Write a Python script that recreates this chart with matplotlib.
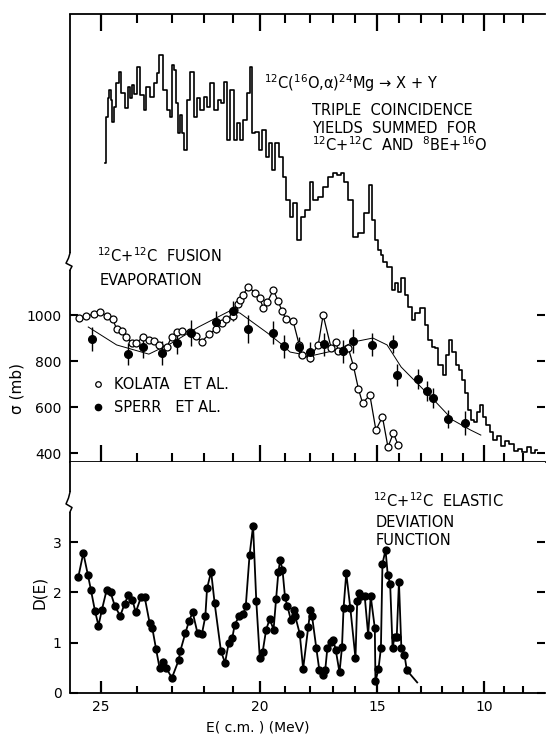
import numpy as np
import matplotlib.pyplot as plt
from matplotlib.lines import Line2D

# energy axis of the figure is not linear in E(c.m.):
# length of each 1 MeV step, going from 26 MeV down to 6 MeV
axis_mev = np.arange(26, 5, -1)
mev_step = [38, 36, 34.5, 32, 29, 27, 25.5, 24.5, 23.5, 22.5,
            21.5, 22, 22, 21.5, 21, 20.5, 20, 19.5, 19, 19]

# 12C(16O,a)24Mg -> X+Y triple coincidence yield (arbitrary units, drawn on the sigma scale)
yield_e = [24.89, 24.84, 24.78, 24.76, 24.70, 24.68, 24.62, 24.54, 24.49, 24.38,
           24.30, 24.22, 24.16, 24.11, 24.05, 23.97, 23.86, 23.77, 23.69, 23.57,
           23.46, 23.40, 23.31, 23.20, 23.09, 23.03, 22.97, 22.88, 22.84, 22.78,
           22.72, 22.66, 22.59, 22.44, 22.38, 22.25, 22.16, 22.06, 21.93, 21.82,
           21.71, 21.57, 21.46, 21.36, 21.21, 21.18, 21.00, 20.88, 20.81, 20.65,
           20.54, 20.42, 20.31, 20.23, 20.08, 19.96, 19.81, 19.69, 19.58, 19.46,
           19.31, 19.15, 19.00, 18.88, 18.75, 18.58, 18.46, 18.25, 18.08, 17.92,
           17.75, 17.54, 17.33, 17.13, 16.91, 16.73, 16.59, 16.45, 16.23, 16.00,
           15.76, 15.48, 15.29, 15.14, 15.00, 14.88, 14.79, 14.63, 14.42, 14.25,
           14.13, 14.00, 13.80, 13.65, 13.50, 13.35, 13.15, 12.91, 12.74, 12.57,
           12.43, 12.30, 12.09, 11.90, 11.75, 11.60, 11.45, 11.30, 11.15, 11.00,
           10.85, 10.70, 10.55, 10.40, 10.25, 10.10, 9.95, 9.81, 9.62, 9.43,
           9.24, 9.05, 8.83, 8.61, 8.39, 8.17, 7.94, 7.72, 7.50, 7.28]
yield_val = [1661, 1861, 1944, 1978, 1935, 1839, 1904, 2009, 2057, 1965,
             1900, 1991, 1944, 2000, 1961, 2078, 1957, 1891, 1991, 1948,
             2009, 2052, 2130, 1978, 1891, 1861, 2087, 2065, 1922, 1791,
             1870, 1791, 1717, 1935, 2057, 1861, 1944, 1891, 1948, 1904,
             2009, 1891, 1935, 1922, 2013, 1761, 1978, 1761, 1835, 1761,
             1848, 1965, 2078, 1791, 1796, 1717, 1804, 1687, 1748, 1630,
             1748, 1687, 1600, 1500, 1426, 1487, 1326, 1426, 1457, 1578,
             1500, 1513, 1557, 1600, 1617, 1609, 1617, 1578, 1500, 1339,
             1357, 1443, 1565, 1413, 1326, 1283, 1261, 1230, 1209, 1109,
             1139, 1100, 1161, 1087, 1035, 978, 1009, 1030, 957, 891,
             861, 857, 783, 739, 826, 891, 839, 783, 761, 717,
             661, 587, 543, 535, 578, 609, 557, 522, 491, 457,
             474, 430, 452, 439, 409, 417, 404, 426, 400, 413]

# 12C+12C fusion evaporation cross section (mb)
kolata_e = [25.58, 25.39, 25.18, 25.03, 24.84, 24.68, 24.57, 24.43, 24.30, 24.14,
            24.03, 23.83, 23.66, 23.51, 23.37, 23.14, 23.00, 22.84, 22.66, 22.41,
            22.25, 22.06, 21.82, 21.57, 21.36, 21.21, 21.00, 20.96, 20.81, 20.73,
            20.62, 20.42, 20.15, 20.00, 19.85, 19.69, 19.46, 19.27, 19.12, 18.96,
            18.67, 18.42, 18.29, 18.00, 17.63, 17.42, 17.08, 16.86, 16.77, 16.55,
            16.32, 16.09, 15.86, 15.67, 15.33, 15.05, 14.75, 14.50, 14.25, 14.04]
kolata_sig = [987, 996, 1004, 1013, 996, 983, 939, 930, 904, 878,
              878, 904, 891, 887, 870, 861, 904, 926, 930, 926,
              909, 883, 917, 939, 965, 983, 996, 1022, 1048, 1065,
              1087, 1122, 1096, 1074, 1030, 1057, 1109, 1061, 1017, 983,
              974, 870, 826, 813, 870, 1000, 857, 883, 843, 843,
              857, 778, 678, 617, 652, 500, 557, 426, 487, 435]

sperr_e = [25.24, 24.24, 23.83, 23.29, 22.84, 22.38, 21.57, 21.00, 20.42, 19.46,
           19.04, 18.42, 18.00, 17.38, 16.55, 16.09, 15.24, 14.29, 14.10, 13.15,
           12.74, 12.43, 11.75, 10.90]
sperr_sig = [896, 830, 861, 835, 878, 922, 970, 1017, 939, 922,
             865, 861, 839, 874, 843, 887, 870, 874, 739, 722,
             670, 639, 548, 530]
sperr_err = [53, 48, 48, 52, 48, 58, 48, 43, 62, 50,
             50, 45, 45, 50, 50, 52, 50, 40, 48, 45,
             45, 45, 40, 52]

# smooth curve through the Sperr data
fit_e = [25.34, 24.57, 23.66, 23.00, 22.16, 21.11, 20.73, 19.69, 19.19, 18.79,
         17.96, 16.82, 16.09, 15.19, 14.54, 13.90, 13.00, 12.26, 11.50, 10.65, 10.15]
fit_sig = [948, 870, 830, 878, 948, 1017, 1009, 922, 878, 839,
           822, 848, 883, 900, 870, 774, 687, 617, 543, 500, 478]

# 12C+12C elastic deviation function; last entry is the end of the drawn line
dev_e = [25.60, 25.47, 25.35, 25.27, 25.16, 25.07, 24.98, 24.85, 24.74, 24.62,
         24.47, 24.35, 24.24, 24.13, 24.04, 23.89, 23.78, 23.64, 23.56, 23.45,
         23.35, 23.26, 23.16, 22.99, 22.78, 22.73, 22.57, 22.45, 22.34, 22.19,
         22.05, 21.94, 21.88, 21.74, 21.62, 21.40, 21.26, 21.13, 21.01, 20.92,
         20.76, 20.60, 20.51, 20.37, 20.24, 20.12, 19.99, 19.88, 19.74, 19.60,
         19.45, 19.35, 19.26, 19.19, 19.10, 19.00, 18.90, 18.76, 18.65, 18.58,
         18.40, 18.26, 18.05, 17.96, 17.89, 17.71, 17.58, 17.43, 17.33, 17.24,
         17.10, 16.99, 16.88, 16.71, 16.60, 16.53, 16.41, 16.23, 16.00, 15.92,
         15.84, 15.73, 15.57, 15.41, 15.29, 15.10, 15.07, 14.93, 14.82, 14.75,
         14.61, 14.51, 14.40, 14.29, 14.20, 14.10, 14.00, 13.89, 13.75, 13.64,
         13.17]
dev_d = [2.31, 2.78, 2.35, 2.05, 1.62, 1.34, 1.65, 2.04, 2.00, 1.73,
         1.53, 1.77, 1.95, 1.85, 1.60, 1.90, 1.90, 1.40, 1.29, 0.87,
         0.50, 0.62, 0.50, 0.30, 0.65, 0.83, 1.19, 1.44, 1.60, 1.19,
         1.18, 1.52, 2.08, 2.41, 1.79, 0.83, 0.60, 1.00, 1.09, 1.36,
         1.52, 1.57, 1.73, 2.74, 3.32, 1.82, 0.69, 0.81, 1.26, 1.47,
         1.26, 1.87, 2.41, 2.64, 2.45, 1.90, 1.72, 1.45, 1.64, 1.52,
         1.18, 0.48, 1.32, 1.65, 1.52, 0.89, 0.45, 0.36, 0.46, 0.89,
         1.02, 1.06, 0.86, 0.41, 0.91, 1.69, 2.38, 1.69, 0.69, 1.82,
         1.98, 1.92, 1.92, 1.16, 1.92, 1.29, 0.23, 0.48, 0.89, 2.57,
         2.84, 2.35, 2.17, 0.89, 1.12, 1.12, 2.21, 0.89, 0.76, 0.45,
         0.21]

major_e = [25, 20, 15, 10]
minor_e = [24, 23, 22, 21, 19, 18, 17, 16, 14, 13, 12, 11, 9, 8]
major_labels = ['25', '20', '15', '10']
sigma_ticks = [400, 600, 800, 1000]
dev_ticks = [0, 1, 2, 3]

# ---- energy scale built from the step lengths
grid_e = axis_mev[::-1].astype(float)
grid_u = -np.concatenate([[0.0], np.cumsum(mev_step)])[::-1]
grid_e = np.concatenate([[-100.0], grid_e, [200.0]])
grid_u = np.concatenate([[grid_u[0] - 19 * 106], grid_u, [grid_u[-1] + 40 * 174]])


def e_forward(e):
    return np.interp(np.asarray(e, float), grid_e, grid_u)


def e_inverse(u):
    return np.interp(np.asarray(u, float), grid_u, grid_e)


def broken_spine(axis, lo, hi, h_px, w_px=475):
    """left spine with a small squiggle between lo and hi (axes fraction)"""
    kw = dict(transform=axis.transAxes, color='k', lw=1.3, clip_on=False,
              solid_capstyle='butt')
    axis.plot([0, 0], [0, lo], **kw)
    axis.plot([0, 0], [hi, 1], **kw)
    span = (hi - lo) * h_px
    sx = np.array([0, -1.5, -4.0, 2.0, 0]) / w_px
    sy = hi - np.array([0, 0.3, 0.6, 0.78, 1.0]) * span / h_px
    axis.plot(sx, sy, transform=axis.transAxes, color='k', lw=1.1, clip_on=False)


plt.rcParams['font.family'] = 'DejaVu Sans'
plt.rcParams['mathtext.fontset'] = 'dejavusans'

fig = plt.figure(figsize=(5.47, 7.38), dpi=100)
ax = fig.add_axes([0.128, 0.374, 0.868, 0.607])
bx = fig.add_axes([0.128, 0.061, 0.868, 0.313])

for a in (ax, bx):
    a.set_xscale('function', functions=(e_forward, e_inverse))
    a.set_xlim(25.82, 6.87)
    a.set_xticks(major_e, labels=major_labels)
    a.set_xticks(minor_e, minor=True)
    a.spines['left'].set_visible(False)
    a.spines['right'].set_visible(False)
    for s in a.spines.values():
        s.set_linewidth(1.3)
    a.yaxis.set_ticks_position('both')

# ---- upper panel
ax.step(yield_e, yield_val, where='mid', color='k', lw=1.2)
ax.plot(fit_e, fit_sig, color='k', lw=0.7)
ax.errorbar(sperr_e, sperr_sig, yerr=sperr_err, fmt='o', color='k', ms=5.5,
            elinewidth=1.0, capsize=0)
ax.plot(kolata_e, kolata_sig, '-o', color='k', lw=0.9, ms=5, mfc='white',
        mec='k', mew=0.9)

ax.set_ylim(361, 2309)
ax.set_yticks(sigma_ticks)
ax.xaxis.set_ticks_position('both')
ax.tick_params(axis='x', which='major', direction='in', length=12, width=1.6,
               labelbottom=False, labeltop=False)
ax.tick_params(axis='x', which='minor', direction='in', length=6.5, width=1.5)
ax.tick_params(axis='y', which='major', direction='in', length=6, width=1.5,
               labelsize=10, pad=6, labelright=False)
ax.set_ylabel('σ (mb)', fontsize=11)
ax.yaxis.set_label_coords(-0.095, 0.165)
broken_spine(ax, 0.4286, 0.4665, 448)

ax.text(0.408, 0.8326, r'$^{12}$C($^{16}$O,α)$^{24}$Mg → X + Y',
        transform=ax.transAxes, fontsize=10.5, va='baseline')
ax.text(0.509, 0.7746, 'TRIPLE  COINCIDENCE', transform=ax.transAxes,
        fontsize=10.5, va='baseline')
ax.text(0.509, 0.7344, 'YIELDS  SUMMED  FOR', transform=ax.transAxes,
        fontsize=10.5, va='baseline')
ax.text(0.509, 0.694, r'$^{12}$C+$^{12}$C  AND  $^{8}$BE+$^{16}$O',
        transform=ax.transAxes, fontsize=10.5, va='baseline')
ax.text(0.057, 0.4464, r'$^{12}$C+$^{12}$C  FUSION', transform=ax.transAxes,
        fontsize=10.5, va='baseline')
ax.text(0.063, 0.395, 'EVAPORATION', transform=ax.transAxes,
        fontsize=10.5, va='baseline')

handles = [Line2D([], [], ls='', marker='o', ms=4, mfc='white', mec='k', mew=0.9),
           Line2D([], [], ls='', marker='o', ms=4.5, color='k')]
ax.legend(handles, ['KOLATA   ET AL.', 'SPERR   ET AL.'], frameon=False,
          loc='upper left', bbox_to_anchor=(0.046, 0.19), borderaxespad=0,
          borderpad=0, handlelength=0.8, handletextpad=0.7, labelspacing=0.55,
          fontsize=10.5)

# ---- lower panel
bx.plot(dev_e, dev_d, '-o', color='k', lw=1.3, ms=5,
        markevery=list(range(len(dev_e) - 1)))
bx.spines['top'].set_visible(False)
bx.set_ylim(0, 4.59)
bx.set_yticks(dev_ticks)
bx.xaxis.set_ticks_position('bottom')
bx.tick_params(axis='x', which='major', direction='in', length=9, width=1.6,
               labelsize=10, pad=5)
bx.tick_params(axis='x', which='minor', direction='in', length=5, width=1.5)
bx.tick_params(axis='y', which='major', direction='in', length=6, width=1.5,
               labelsize=10, pad=6, labelright=False)
bx.set_ylabel('D(E)', fontsize=11)
bx.yaxis.set_label_coords(-0.048, 0.437)
bx.set_xlabel('E( c.m. ) (MeV)', fontsize=10)
bx.xaxis.set_label_coords(0.396, -0.121)
broken_spine(bx, 0.784, 0.870, 231)

bx.text(0.638, 0.805, r'$^{12}$C+$^{12}$C  ELASTIC', transform=bx.transAxes,
        fontsize=10.5, va='baseline')
bx.text(0.644, 0.719, 'DEVIATION', transform=bx.transAxes, fontsize=10.5,
        va='baseline')
bx.text(0.644, 0.641, 'FUNCTION', transform=bx.transAxes, fontsize=10.5,
        va='baseline')

fig.savefig('out.png', dpi=100)
